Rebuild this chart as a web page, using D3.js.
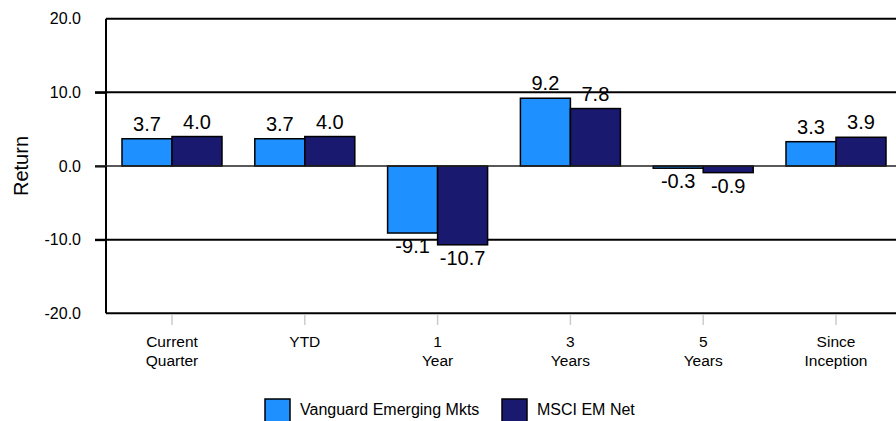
<!DOCTYPE html>
<html>
<head>
<meta charset="utf-8">
<script src="https://cdn.jsdelivr.net/npm/d3@7"></script>
<style>
  body { margin: 0; background: #fff; }
  svg text { font-family: "Liberation Sans", Arial, sans-serif; fill: #000; }
</style>
</head>
<body>
<svg id="chart" width="896" height="421"></svg>
<script>
var categories = [["Current", "Quarter"], ["YTD"], ["1", "Year"], ["3", "Years"], ["5", "Years"], ["Since", "Inception"]];
var seriesNames = ["Vanguard Emerging Mkts", "MSCI EM Net"];
var seriesColors = ["#1E90FF", "#191970"];
var vanguard = [3.7, 3.7, -9.1, 9.2, -0.3, 3.3];
var msci = [4.0, 4.0, -10.7, 7.8, -0.9, 3.9];
var yTicks = [20, 10, 0, -10, -20];

var svg = d3.select("#chart");
var plotLeft = 106, plotRight = 905, plotTop = 18.7, plotBottom = 313.3;

// hyphen minus like the original, not the unicode minus d3 uses
var fmt = function(v) { return d3.format(".1f")(v).replace("\u2212", "-"); };

var x0 = d3.scaleBand().domain(d3.range(categories.length)).range([105.6, 902.4]);
var x1 = d3.scaleBand().domain([0, 1]).range([16.4, 116.4]);
var y = d3.scaleLinear().domain([-20, 20]).range([plotBottom, plotTop]);

// frame lines at top / bottom
[20, -20].forEach(function(v) {
	svg.append("line").attr("x1", plotLeft).attr("x2", plotRight)
		.attr("y1", y(v)).attr("y2", y(v))
		.style("stroke", "#000").style("stroke-width", "2px");
});
// gridlines
[10, -10].forEach(function(v) {
	svg.append("line").attr("x1", 95).attr("x2", plotRight)
		.attr("y1", y(v)).attr("y2", y(v))
		.style("stroke", "#000").style("stroke-width", "2px");
});

// y axis
var yAxis = svg.append("g").attr("transform", "translate(" + plotLeft + ",0)")
	.call(d3.axisLeft(y).tickValues(yTicks).tickFormat(fmt).tickSize(11).tickPadding(14));
yAxis.select(".domain").style("stroke", "#000").style("stroke-width", "2px").attr("d", "M0," + plotTop + "V" + plotBottom);
yAxis.selectAll(".tick line").style("stroke", "#000").style("stroke-width", "2px")
	.style("display", function(d) { return (d == 20 || d == -20) ? "none" : null; });
yAxis.selectAll(".tick text").style("font-size", "16px").style("font-family", "Liberation Sans, Arial, sans-serif").attr("fill", "#000");

svg.append("text").attr("transform", "translate(28," + y(0) + ") rotate(-90)")
	.attr("text-anchor", "middle").style("font-size", "20px").text("Return");

// x ticks and labels
var xg = svg.append("g");
categories.forEach(function(c, i) {
	var cx = x0(i) + x0.bandwidth() / 2;
	xg.append("line").attr("x1", cx).attr("x2", cx).attr("y1", 315).attr("y2", 325)
		.style("stroke", "#ccc").style("stroke-width", "1.5px");
	var t = xg.append("text").attr("x", cx).attr("y", 347).attr("text-anchor", "middle").style("font-size", "15.5px");
	c.forEach(function(line, j) {
		t.append("tspan").attr("x", cx).attr("dy", j == 0 ? 0 : 19).text(line);
	});
});

// bars
var series = [vanguard, msci];
series.forEach(function(vals, s) {
	var g = svg.append("g");
	vals.forEach(function(v, i) {
		var bx = x0(i) + x1(s);
		g.append("rect").attr("x", bx).attr("width", x1.bandwidth())
			.attr("y", y(Math.max(0, v))).attr("height", Math.abs(y(v) - y(0)))
			.style("fill", seriesColors[s]).style("stroke", "#000").style("stroke-width", "1.5px");
	});
});

// zero line
svg.append("line").attr("x1", 95).attr("x2", plotRight)
	.attr("y1", y(0)).attr("y2", y(0))
	.style("stroke", "#222").style("stroke-width", "1.5px");

// value labels
series.forEach(function(vals, s) {
	vals.forEach(function(v, i) {
		var bx = x0(i) + x1(s) + x1.bandwidth() / 2;
		svg.append("text").attr("x", bx)
			.attr("y", v >= 0 ? y(v) - 8 : y(v) + 20)
			.attr("text-anchor", "middle").style("font-size", "20px")
			.text(fmt(v));
	});
});

// legend
var legendX = [265, 502];
seriesNames.forEach(function(n, s) {
	svg.append("rect").attr("x", legendX[s]).attr("y", 399).attr("width", 25).attr("height", 24)
		.style("fill", seriesColors[s]).style("stroke", "#000").style("stroke-width", "1.5px");
	svg.append("text").attr("x", legendX[s] + 35).attr("y", 415).style("font-size", "16px").text(n);
});
</script>
</body>
</html>
